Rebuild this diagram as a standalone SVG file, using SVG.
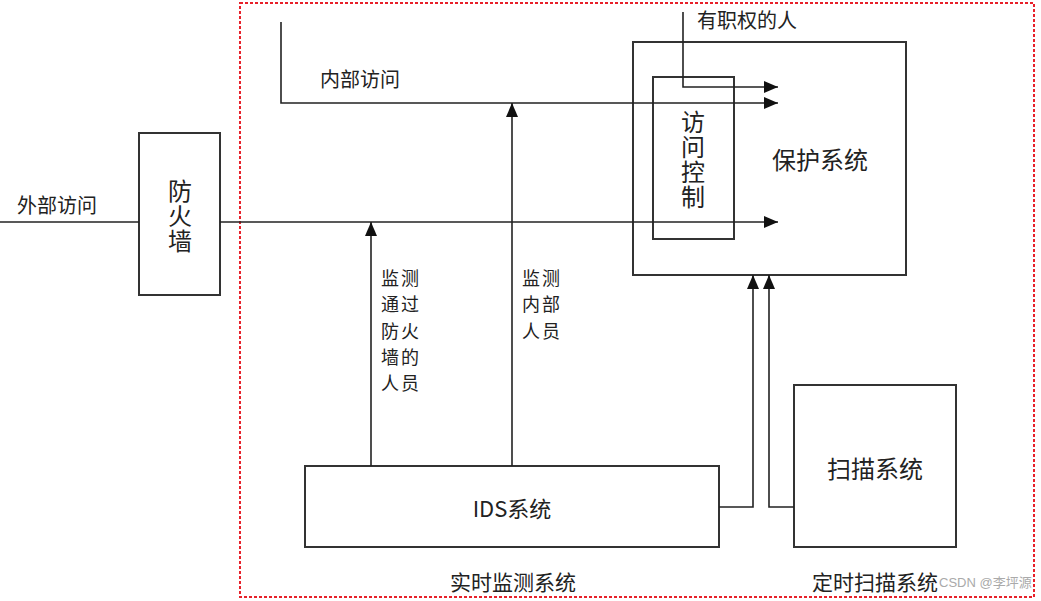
<svg xmlns="http://www.w3.org/2000/svg" width="1041" height="601" viewBox="0 0 1041 601">
<defs>
<style>
.box{fill:#fff;stroke:#333;stroke-width:2}
.ln{fill:none;stroke:#222;stroke-width:1.6}
.t{font-family:"Noto Sans CJK SC","Liberation Sans",sans-serif;fill:#222;dominant-baseline:central}
.v{font-family:"Noto Sans CJK SC","Liberation Sans",sans-serif;fill:#222;font-size:24px;writing-mode:vertical-rl;text-anchor:middle;letter-spacing:1px}
.s{font-size:20px}
.w{font-size:18px;letter-spacing:2px}
.b{font-size:21px}
.m{font-size:24px}
.wm{font-family:"Liberation Sans","Noto Sans CJK SC",sans-serif;font-size:13px;fill:#aaa;dominant-baseline:central}
</style>
<marker id="ah" viewBox="0 0 14 12" markerWidth="14" markerHeight="12" refX="14" refY="6" orient="auto" markerUnits="userSpaceOnUse">
<path d="M0,0 L14,6 L0,12 z" fill="#111"/>
</marker>
</defs>
<rect width="1041" height="601" fill="#fff"/>
<rect x="240" y="3" width="794" height="594" fill="none" stroke="#e8202a" stroke-width="2" stroke-dasharray="3,2"/>
<text class="wm" x="939" y="582">CSDN @李坪源</text>
<g id="protect">
<rect class="box" x="633" y="42" width="273" height="233"/>
<text class="t m" x="820" y="158" text-anchor="middle">保护系统</text>
</g>
<g id="access">
<rect class="box" x="653" y="77" width="81" height="162"/>
<text class="v" x="693" y="160">访问控制</text>
</g>
<g id="firewall">
<rect class="box" x="139" y="133" width="81" height="162"/>
<text class="v" x="180" y="216">防火墙</text>
</g>
<g id="ids">
<rect class="box" x="305" y="466" width="414" height="81"/>
<text class="t" style="font-size:22px" x="512" y="507" text-anchor="middle">IDS系统</text>
</g>
<g id="scan">
<rect class="box" x="794" y="385" width="162" height="162"/>
<text class="t m" x="875" y="467" text-anchor="middle">扫描系统</text>
</g>
<g id="connectors">
<line class="ln" x1="0" y1="222" x2="139" y2="222"/>
<line class="ln" x1="220" y1="222" x2="778" y2="222" marker-end="url(#ah)"/>
<polyline class="ln" points="281,22 281,103 778,103" marker-end="url(#ah)"/>
<polyline class="ln" points="683,12 683,87 778,87" marker-end="url(#ah)"/>
<line class="ln" x1="371" y1="466" x2="371" y2="222" marker-end="url(#ah)"/>
<line class="ln" x1="512" y1="466" x2="512" y2="103" marker-end="url(#ah)"/>
<polyline class="ln" points="719,507 753,507 753,275" marker-end="url(#ah)"/>
<polyline class="ln" points="794,507 769,507 769,275" marker-end="url(#ah)"/>
</g>
<g id="labels">
<text class="t s" x="17" y="204">外部访问</text>
<text class="t s" x="320" y="78">内部访问</text>
<text class="t s" x="697" y="19">有职权的人</text>
<text class="t w"><tspan x="381" y="277">监测</tspan><tspan x="381" y="303.3">通过</tspan><tspan x="381" y="329.6">防火</tspan><tspan x="381" y="355.9">墙的</tspan><tspan x="381" y="382.2">人员</tspan></text>
<text class="t w"><tspan x="522" y="277">监测</tspan><tspan x="522" y="303.3">内部</tspan><tspan x="522" y="329.6">人员</tspan></text>
<text class="t b" x="513" y="581" text-anchor="middle">实时监测系统</text>
<text class="t b" x="812" y="581">定时扫描系统</text>
</g>
</svg>
